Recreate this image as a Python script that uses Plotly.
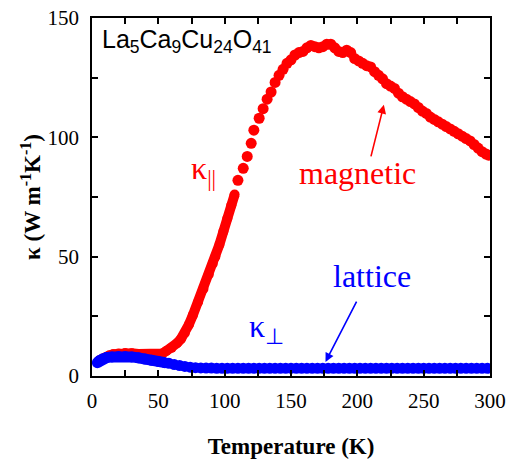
import plotly.graph_objects as go

# kappa parallel (red), densely sampled part
red_dense_T = [5, 6, 8, 10, 13, 16, 20, 25, 30, 35, 40, 45, 50, 53, 56, 60, 64, 67, 70, 73,
               76, 80, 84, 88, 91, 93, 96, 99, 102, 105, 107.5]
red_dense_k = [6.3, 6.7, 7.2, 7.8, 8.6, 9.1, 9.4, 9.6, 9.5, 9.2, 9.0, 8.8, 8.9, 9.4, 10.5, 11.8,
               13.7, 15.5, 18.0, 21.5, 25.5, 31.0, 36.5, 42.5, 47.0, 50.0, 55.0, 60.5, 66.0,
               71.5, 76.0]
# kappa parallel (red), sparse part
red_T = [110, 114, 117, 120, 122, 126, 129, 132, 135, 138, 141, 144, 147, 150, 153, 156, 159,
         162, 165, 168, 171, 174, 177, 180, 183, 186, 189, 192, 195, 198, 201, 204, 207, 210,
         213, 216, 219, 222, 225, 228, 231, 234, 237, 240, 243, 246, 249, 252, 255, 258, 261,
         264, 267, 270, 273, 276, 279, 282, 285, 288, 291, 294, 297, 299]
red_k = [82, 87, 92, 97.5, 103, 108, 112, 116, 119, 123, 126, 128.5, 131, 132.5, 134.5, 135.5,
         136, 137.5, 138.5, 138, 137.5, 138, 139, 139, 137.5, 136, 135.5, 136.5, 135.5, 133,
         132, 131, 130, 129.5, 127.5, 126, 124.5, 122.5, 121.5, 120.5, 118.5, 117, 116, 115,
         114, 112.5, 111, 110, 108.5, 107.5, 106.5, 105.5, 104.5, 103.5, 102.5, 101.5, 100.5,
         99.5, 98.5, 97, 95.5, 94, 93, 92.5]

# kappa perpendicular (blue)
blue_dense_T = [4, 5, 6, 8, 11, 15, 20, 25, 30, 35, 40, 45, 50, 55]
blue_dense_k = [5.6, 6.1, 6.6, 7.2, 7.7, 8.0, 8.2, 8.2, 8.0, 7.6, 7.1, 6.6, 6.1, 5.6]
blue_T = [58, 62, 66, 70, 74, 78, 82, 86, 90, 94, 98, 102, 106, 110, 114, 118, 122, 126, 130,
          134, 138, 142, 146, 150, 154, 158, 162, 166, 170, 174, 178, 182, 186, 190, 194, 198,
          202, 206, 210, 214, 218, 222, 226, 230, 234, 238, 242, 246, 250, 254, 258, 262, 266,
          270, 274, 278, 282, 286, 290, 294, 298]
blue_k = [5.3, 4.8, 4.4, 4.0, 3.7, 3.5, 3.4, 3.3, 3.3, 3.2, 3.2, 3.2, 3.2, 3.2, 3.2, 3.2, 3.2,
          3.2, 3.2, 3.2, 3.2, 3.2, 3.2, 3.2, 3.2, 3.2, 3.2, 3.2, 3.2, 3.2, 3.2, 3.2, 3.2, 3.2,
          3.2, 3.2, 3.2, 3.2, 3.2, 3.2, 3.2, 3.2, 3.2, 3.2, 3.2, 3.2, 3.2, 3.2, 3.2, 3.2, 3.2,
          3.2, 3.2, 3.2, 3.2, 3.2, 3.2, 3.2, 3.2, 3.2, 3.2]

tick_vals = [0, 25, 50, 75, 100, 125, 150, 175, 200, 225, 250, 275, 300]
x_tick_text = ["0", "", "50", "", "100", "", "150", "", "200", "", "250", "", "300"]
y_tick_vals = [0, 25, 50, 75, 100, 125, 150]
y_tick_text = ["0", "", "50", "", "100", "", "150"]

RED = "#ff0000"
BLUE = "#0000ff"
SERIF = "Liberation Serif"

fig = go.Figure()
fig.add_trace(go.Scatter(x=red_dense_T, y=red_dense_k, mode="lines+markers",
                         line=dict(color=RED, width=10),
                         marker=dict(color=RED, size=10, line=dict(width=0)),
                         showlegend=False))
fig.add_trace(go.Scatter(x=red_T, y=red_k, mode="markers",
                         marker=dict(color=RED, size=11, line=dict(width=0)),
                         showlegend=False))
fig.add_trace(go.Scatter(x=blue_dense_T, y=blue_dense_k, mode="lines+markers",
                         line=dict(color=BLUE, width=11),
                         marker=dict(color=BLUE, size=11, line=dict(width=0)),
                         showlegend=False))
fig.add_trace(go.Scatter(x=blue_T, y=blue_k, mode="markers",
                         marker=dict(color=BLUE, size=11, line=dict(width=0)),
                         showlegend=False))

axis_common = dict(showline=True, linecolor="black", linewidth=1.5, mirror="ticks",
                   ticks="inside", ticklen=6, tickwidth=1.5, tickcolor="black",
                   showgrid=False, zeroline=False, automargin=False,
                   tickfont=dict(family=SERIF, size=21, color="black"))

fig.update_xaxes(range=[0, 300], tickvals=tick_vals, ticktext=x_tick_text,
                 ticklabelstandoff=5,
                 title=dict(text="<b>Temperature (K)</b>", standoff=26,
                            font=dict(family=SERIF, size=23, color="black")),
                 **axis_common)
fig.update_yaxes(range=[0, 150], tickvals=y_tick_vals, ticktext=y_tick_text,
                 ticklabelstandoff=7,
                 title=dict(text="<b>κ (W m<sup>-1</sup>K<sup>-1</sup>)</b>", standoff=0,
                            font=dict(family=SERIF, size=23, color="black")),
                 **axis_common)

annotations = [
    dict(text="La<sub>5</sub>Ca<sub>9</sub>Cu<sub>24</sub>O<sub>41</sub>",
         xref="paper", yref="paper", x=0.02, y=0.985, xanchor="left", yanchor="top",
         showarrow=False, font=dict(family="Liberation Sans", size=25, color="black")),
    dict(text="magnetic", x=200, y=85, xref="x", yref="y", showarrow=False,
         font=dict(family=SERIF, size=32, color=RED)),
    dict(text="lattice", x=211, y=42, xref="x", yref="y", showarrow=False,
         font=dict(family=SERIF, size=32, color=BLUE)),
    dict(text="κ<sub>||</sub>", x=73, y=86, xref="x", yref="y", showarrow=False,
         xanchor="left", font=dict(family=SERIF, size=32, color=RED)),
    dict(text="κ<sub>⊥</sub>", x=117, y=20, xref="x", yref="y", showarrow=False,
         xanchor="left", font=dict(family=SERIF, size=32, color=BLUE)),
    dict(text="", x=220, y=113.6, ax=210, ay=91.4, xref="x", yref="y", axref="x", ayref="y",
         showarrow=True, arrowhead=2, arrowsize=1.1, arrowwidth=1.6, arrowcolor=RED),
    dict(text="", x=176, y=5.9, ax=200, ay=31.8, xref="x", yref="y", axref="x", ayref="y",
         showarrow=True, arrowhead=2, arrowsize=1.1, arrowwidth=1.6, arrowcolor=BLUE),
]

fig.update_layout(width=512, height=466, margin=dict(l=92, r=22, t=18, b=90),
                  paper_bgcolor="white", plot_bgcolor="white",
                  annotations=annotations, showlegend=False)

fig.write_html("out.html", config={"displayModeBar": False},
               post_script="document.body.style.margin='0';")
